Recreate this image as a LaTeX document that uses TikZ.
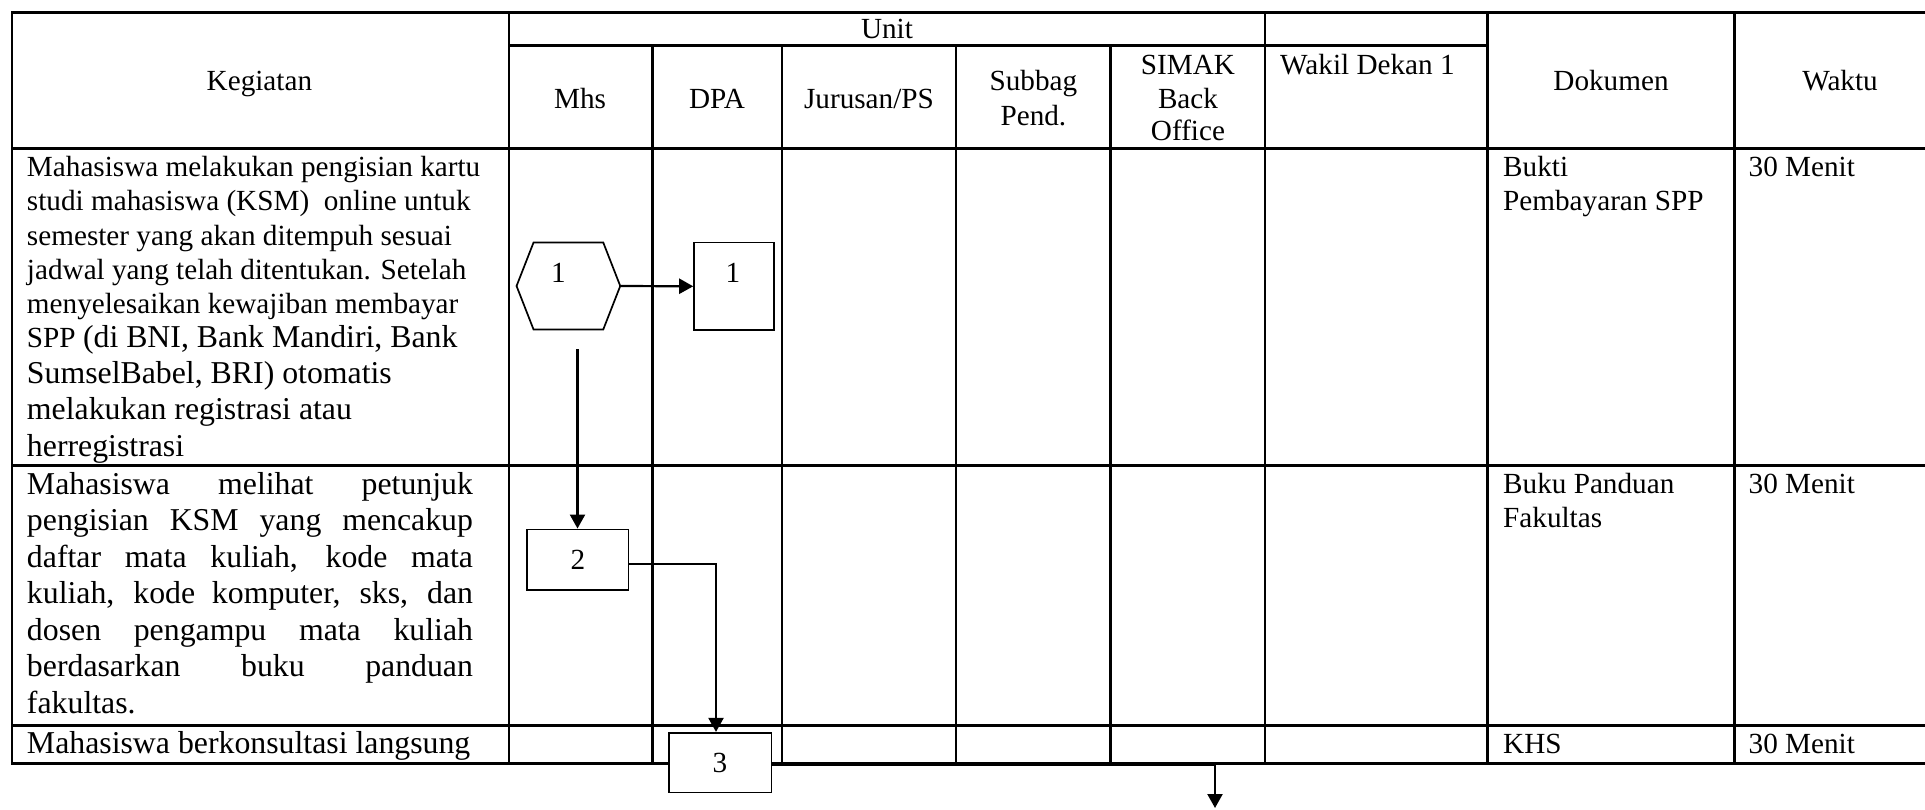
\documentclass[tikz,border=0pt]{standalone}
\usepackage{fontspec}
\setmainfont{Liberation Serif}
\usetikzlibrary{arrows.meta,calc}
\tikzset{
  grid/.style={line width=2.6pt},
  box/.style={draw, line width=1.6pt, fill=white, inner sep=0pt, font=\fontsize{29.2}{34}\selectfont},
  hexbox/.style={inner sep=0pt, minimum width=103.3pt, minimum height=86.6pt},
  hexline/.style={line width=1.7pt},
  conn/.style={line width=2.2pt, -{Triangle[length=14pt,width=15pt]}},
  ta/.style={inner sep=0pt, font=\fontsize{29.2}{34}\selectfont},
  tb/.style={inner sep=0pt, font=\fontsize{31.8}{36.5}\selectfont},
}
\begin{document}
\begin{tikzpicture}[x=1pt,y=-1pt]
\useasboundingbox (0,0) rectangle (1925,809);
% ---------- table ----------
\draw[grid] (1925,12.3) -- (12,12.3) -- (12,763.3) -- (1925,763.3);
\draw[grid] (509,45.7) -- (1487.6,45.7);
\draw[grid] (12,148.3) -- (1925,148.3);
\draw[grid] (12,465.7) -- (1925,465.7);
\draw[grid] (12,725.7) -- (1925,725.7);
\draw[grid] (509,12.3) -- (509,763.3);
\draw[grid] (652.7,45.7) -- (652.7,763.3);
\draw[grid] (782,45.7) -- (782,763.3);
\draw[grid] (956,45.7) -- (956,763.3);
\draw[grid] (1110.7,45.7) -- (1110.7,763.3);
\draw[grid] (1265,12.3) -- (1265,763.3);
\draw[grid] (1487.6,12.3) -- (1487.6,763.3);
\draw[grid] (1734.3,12.3) -- (1734.3,763.3);
% ---------- header ----------
\node[ta, anchor=base] (hUnit) at (887,38.3) {Unit};
\node[ta, anchor=base] (hKeg) at (259.4,90) {Kegiatan};
\node[ta, anchor=base] (hMhs) at (580,108.3) {Mhs};
\node[ta, anchor=base] (hDPA) at (717,108.3) {DPA};
\node[ta, anchor=base] (hJur) at (869,108.3) {Jurusan/PS};
\node[ta, anchor=base] (hSubA) at (1033.4,90.7) {Subbag};
\node[ta, anchor=base] (hSubB) at (1033.4,125) {Pend.};
\node[ta, anchor=base] (hSimA) at (1188,74) {SIMAK};
\node[ta, anchor=base] (hSimB) at (1188,108.3) {Back};
\node[ta, anchor=base] (hSimC) at (1188,140.7) {Office};
\node[ta, anchor=base west] (hWak) at (1280,74) {Wakil Dekan 1};
\node[ta, anchor=base] (hDok) at (1611,90) {Dokumen};
\node[ta, anchor=base] (hWkt) at (1840,90) {Waktu};
% ---------- row 1 ----------
\node[ta, anchor=base west] (k1a) at (26.8,176.7) {Mahasiswa melakukan pengisian kartu};
\node[ta, anchor=base west] (k1b) at (26.8,210.5) {studi mahasiswa (KSM)\ \ online untuk};
\node[ta, anchor=base west] (k1c) at (26.8,245) {semester yang akan ditempuh sesuai};
\node[ta, anchor=base west] (k1d) at (26.8,279.5) {jadwal yang telah ditentukan. Setelah};
\node[ta, anchor=base west] (k1e) at (26.8,313) {menyelesaikan kewajiban membayar};
\node[ta, anchor=base west] (k1f) at (26.8,347) {SPP {\fontsize{31.8}{36.5}\selectfont (di BNI, Bank Mandiri, Bank}};
\node[tb, anchor=base west] (k1g) at (26.8,383.5) {SumselBabel, BRI) otomatis};
\node[tb, anchor=base west] (k1h) at (26.8,419) {melakukan registrasi atau};
\node[tb, anchor=base west] (k1i) at (26.8,456) {herregistrasi};
\node[ta, anchor=base west] (d1a) at (1503,176.7) {Bukti};
\node[ta, anchor=base west] (d1b) at (1503,210) {Pembayaran SPP};
\node[ta, anchor=base west] (w1) at (1748.5,176.7) {30 Menit};
% ---------- row 2 ----------
\node[tb, anchor=base west] (k2a) at (26.8,494) {\makebox[446pt][s]{Mahasiswa melihat petunjuk}};
\node[tb, anchor=base west] (k2b) at (26.8,530.5) {\makebox[446pt][s]{pengisian KSM yang mencakup}};
\node[tb, anchor=base west] (k2c) at (26.8,567) {\makebox[446pt][s]{daftar mata kuliah, kode mata}};
\node[tb, anchor=base west] (k2d) at (26.8,603.5) {\makebox[446pt][s]{kuliah, kode komputer, sks, dan}};
\node[tb, anchor=base west] (k2e) at (26.8,640) {\makebox[446pt][s]{dosen pengampu mata kuliah}};
\node[tb, anchor=base west] (k2f) at (26.8,676.5) {\makebox[446pt][s]{berdasarkan buku panduan}};
\node[tb, anchor=base west] (k2g) at (26.8,713) {fakultas.};
\node[ta, anchor=base west] (d2a) at (1503,493.3) {Buku Panduan};
\node[ta, anchor=base west] (d2b) at (1503,527.3) {Fakultas};
\node[ta, anchor=base west] (w2) at (1748.5,493.3) {30 Menit};
% ---------- row 3 ----------
\node[tb, anchor=base west] (k3a) at (26.8,753.3) {Mahasiswa berkonsultasi langsung};
\node[ta, anchor=base west] (d3a) at (1503,753.3) {KHS};
\node[ta, anchor=base west] (w3) at (1748.5,753.3) {30 Menit};
% ---------- flow shapes ----------
\node[hexbox] (h1) at (568.4,286) {};
\draw[hexline, fill=white] (h1.west) -- ($(h1.north west)+(17,0)$) -- ($(h1.north east)+(-17,0)$) -- (h1.east)
  -- ($(h1.south east)+(-17,0)$) -- ($(h1.south west)+(17,0)$) -- cycle;
\node[ta, anchor=base] (h1t) at (558.3,282.3) {1};
\node[box, minimum width=80pt, minimum height=87.3pt] (b1) at (734,286.3) {};
\node[ta, anchor=base] (b1t) at (733,282.3) {1};
\node[box, minimum width=101.6pt, minimum height=60.7pt] (b2) at (577.8,559.7) {2};
\node[box, minimum width=102.6pt, minimum height=59.6pt] (b3) at (720,762.5) {3};
\coordinate (s1) at (577.5,349.3);
\coordinate (e1) at (1215,808);
% ---------- connectors ----------
\draw[conn] (h1.east) -- (b1.west);
\draw[conn] (s1) -- (s1 |- b2.north);
\draw[conn] ($(b2.east)+(0,4.3)$) -| ($(b3.north)+(-4,0)$);
\draw[conn] ($(b3.east)+(0,2.5)$) -| (e1);
\end{tikzpicture}
\end{document}
